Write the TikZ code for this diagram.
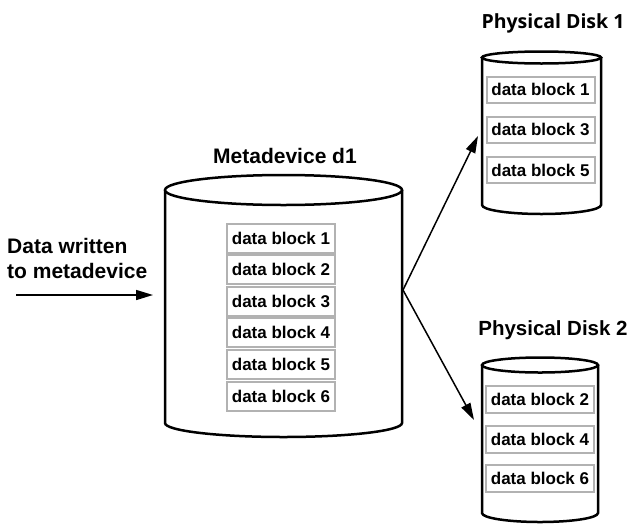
\documentclass[tikz,border=0pt]{standalone}
\usepackage{fontspec}
\setmainfont{Liberation Sans}
\newfontfamily\frut{Open Sans}
\usetikzlibrary{arrows.meta}
\tikzset{
  cyl/.style={line width=2.5pt,draw=black,fill=white},
  blk/.style={draw=black!30,line width=2pt,fill=white,minimum width=108pt,inner sep=0pt,font=\fontsize{17}{19}\selectfont\bfseries},
  ttl/.style={font=\fontsize{21}{25}\selectfont\bfseries,inner sep=0pt},
  arr/.style={line width=1.5pt,-{Triangle[length=17pt,width=10pt]}}
}
\begin{document}
\begin{tikzpicture}[x=1pt,y=-1pt]
\useasboundingbox (0,0) rectangle (631,525);
% main cylinder
\draw[cyl] (165,190) -- (165,423) arc[start angle=180,end angle=360,x radius=118.5pt,y radius=14pt] -- (402,190);
\draw[cyl] (283.5,190) ellipse[x radius=118.5pt,y radius=15pt];
% disk 1
\draw[cyl] (482,57.5) -- (482,205) arc[start angle=180,end angle=360,x radius=59.5pt,y radius=9pt] -- (601,57.5);
\draw[cyl] (541.5,57.5) ellipse[x radius=59.5pt,y radius=6pt];
% disk 2
\draw[cyl] (482,365) -- (482,513) arc[start angle=180,end angle=360,x radius=58pt,y radius=9pt] -- (598,365);
\draw[cyl] (540,365) ellipse[x radius=58pt,y radius=7.5pt];
% titles
\node[ttl] (t0) at (285,156) {Metadevice d1};
\node[ttl,font=\frut\fontsize{19.5}{23}\selectfont\bfseries] (t1) at (553,23) {Physical Disk 1};
\node[ttl,font=\fontsize{20.5}{24}\selectfont\bfseries] (t2) at (553,330) {Physical Disk 2};
\node[ttl,align=left,anchor=west] (in) at (7,258) {Data written\\to metadevice};
% main blocks
\foreach \i/\y in {1/238,2/269.6,3/301.2,4/332.8,5/364.4,6/396}{
  \node[blk,minimum height=29pt] (m\i) at (281,\y) {data block \i};
}
% disk 1 blocks
\foreach \i/\y in {1/89.5,3/129.5,5/170}{
  \node[blk,minimum height=26pt] (a\i) at (540.5,\y) {data block \i};
}
% disk 2 blocks
\foreach \i/\y in {2/399.5,4/439,6/478}{
  \node[blk,minimum height=27pt] (b\i) at (540,\y) {data block \i};
}
% arrows
\coordinate (src) at (16,295);
\coordinate (dst) at (153,295);
\coordinate (split) at (403,290);
\coordinate (d1) at (478,136);
\coordinate (d2) at (474,420);
\draw[arr] (src) -- (dst);
\draw[arr] (split) -- (d1);
\draw[arr] (split) -- (d2);
\end{tikzpicture}
\end{document}
